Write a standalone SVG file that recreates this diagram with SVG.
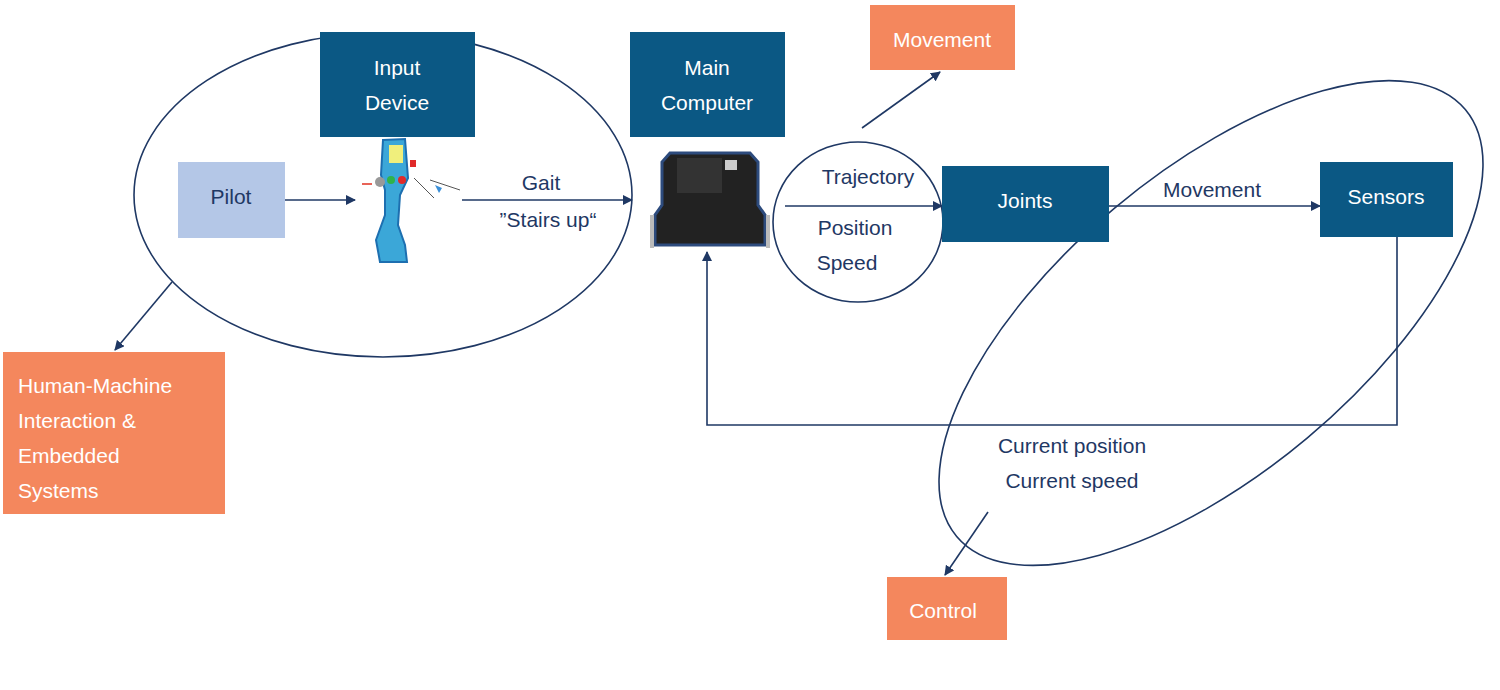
<svg xmlns="http://www.w3.org/2000/svg" width="1500" height="690" viewBox="0 0 1500 690">
<defs>
<style>
.dk{fill:#0b5884}
.or{fill:#f4875d}
.wt{fill:#fff;font-family:"Liberation Sans",Arial,sans-serif;font-size:21px;text-anchor:middle}
.lb{fill:#1f3864;font-family:"Liberation Sans",Arial,sans-serif;font-size:21px;text-anchor:middle}
.ln{fill:none;stroke:#1f3864;stroke-width:1.6}
</style>
<marker id="ah" markerWidth="10" markerHeight="10" refX="9" refY="5" orient="auto" markerUnits="userSpaceOnUse"><path d="M0,0L10,5L0,10z" fill="#1f3864"/></marker>
</defs>
<rect width="1500" height="690" fill="#fff"/>
<g id="connectors">
<ellipse class="ln" cx="383" cy="195" rx="249" ry="162"/>
<ellipse class="ln" cx="858" cy="222" rx="85" ry="80"/>
<ellipse class="ln" cx="1211" cy="323" rx="332" ry="150" transform="rotate(-40 1211 323)"/>
<line class="ln" x1="285" y1="200" x2="355" y2="200" marker-end="url(#ah)"/>
<line class="ln" x1="462" y1="200" x2="632" y2="200" marker-end="url(#ah)"/>
<line class="ln" x1="785" y1="206" x2="942" y2="206" marker-end="url(#ah)"/>
<line class="ln" x1="1109" y1="206" x2="1320" y2="206" marker-end="url(#ah)"/>
<polyline class="ln" points="1397,237 1397,425 707,425 707,252" marker-end="url(#ah)"/>
<line class="ln" x1="862" y1="128" x2="940" y2="72" marker-end="url(#ah)"/>
<line class="ln" x1="172" y1="282" x2="115" y2="350" marker-end="url(#ah)"/>
<line class="ln" x1="988" y1="512" x2="945" y2="575" marker-end="url(#ah)"/>
<text class="lb" x="541" y="190">Gait</text>
<text class="lb" x="548" y="227">”Stairs up“</text>
<text class="lb" x="868" y="184">Trajectory</text>
<text class="lb" x="855" y="235">Position</text>
<text class="lb" x="847" y="270">Speed</text>
<text class="lb" x="1212" y="197">Movement</text>
<text class="lb" x="1072" y="453">Current position</text>
<text class="lb" x="1072" y="488">Current speed</text>
</g>
<g id="input-device"><rect class="dk" x="320" y="32" width="155" height="105"/><text class="wt" x="397" y="75">Input</text><text class="wt" x="397" y="110">Device</text></g>
<g id="joystick">
<path d="M383,140 L405,139 L408,178 L400,195 L398,225 L405,245 L407,262 L380,262 L376,240 L385,215 L385,190 L381,175z" fill="#3ba7d8" stroke="#1d6fb0" stroke-width="2"/>
<rect x="389" y="145" width="14" height="18" fill="#f0ef7c"/>
<circle cx="380" cy="182" r="5" fill="#999"/>
<circle cx="391" cy="180" r="4" fill="#2fb34a"/>
<circle cx="402" cy="180" r="4" fill="#e02a2a"/>
<rect x="410" y="160" width="6" height="7" fill="#e02a2a"/>
<path d="M362,184h10" stroke="#e03020" stroke-width="1.5"/>
<path d="M430,180l30,10M414,178l20,20" stroke="#555" stroke-width="1"/>
<path d="M435,185l7,3l-3,5z" fill="#3b8fd8"/>
</g>
<g id="main-computer"><rect class="dk" x="630" y="32" width="155" height="105"/><text class="wt" x="707" y="75">Main</text><text class="wt" x="707" y="110">Computer</text></g>
<g id="computer-image">
<path d="M670,153 L750,153 L758,162 L758,205 L765,215 L765,245 L655,245 L655,215 L662,205 L662,162z" fill="#222" stroke="#2d4b7d" stroke-width="3"/>
<rect x="677" y="158" width="45" height="35" fill="#333"/>
<rect x="725" y="160" width="12" height="10" fill="#ccc"/>
<path d="M652,215v33M768,215v33" stroke="#bbb" stroke-width="4"/>
</g>
<g id="pilot"><rect x="178" y="162" width="107" height="76" fill="#b4c7e7"/><text class="lb" x="231" y="204" style="fill:#1f3864">Pilot</text></g>
<g id="joints"><rect class="dk" x="942" y="166" width="167" height="76"/><text class="wt" x="1025" y="208">Joints</text></g>
<g id="sensors"><rect class="dk" x="1320" y="162" width="133" height="75"/><text class="wt" x="1386" y="204">Sensors</text></g>
<g id="movement"><rect class="or" x="870" y="5" width="145" height="65"/><text class="wt" x="942" y="47">Movement</text></g>
<g id="hmi"><rect class="or" x="3" y="352" width="222" height="162"/>
<text class="wt" x="18" y="393" style="text-anchor:start">Human-Machine</text>
<text class="wt" x="18" y="428" style="text-anchor:start">Interaction &amp;</text>
<text class="wt" x="18" y="463" style="text-anchor:start">Embedded</text>
<text class="wt" x="18" y="498" style="text-anchor:start">Systems</text></g>
<g id="control"><rect class="or" x="887" y="577" width="120" height="63"/><text class="wt" x="943" y="618">Control</text></g>
</svg>
